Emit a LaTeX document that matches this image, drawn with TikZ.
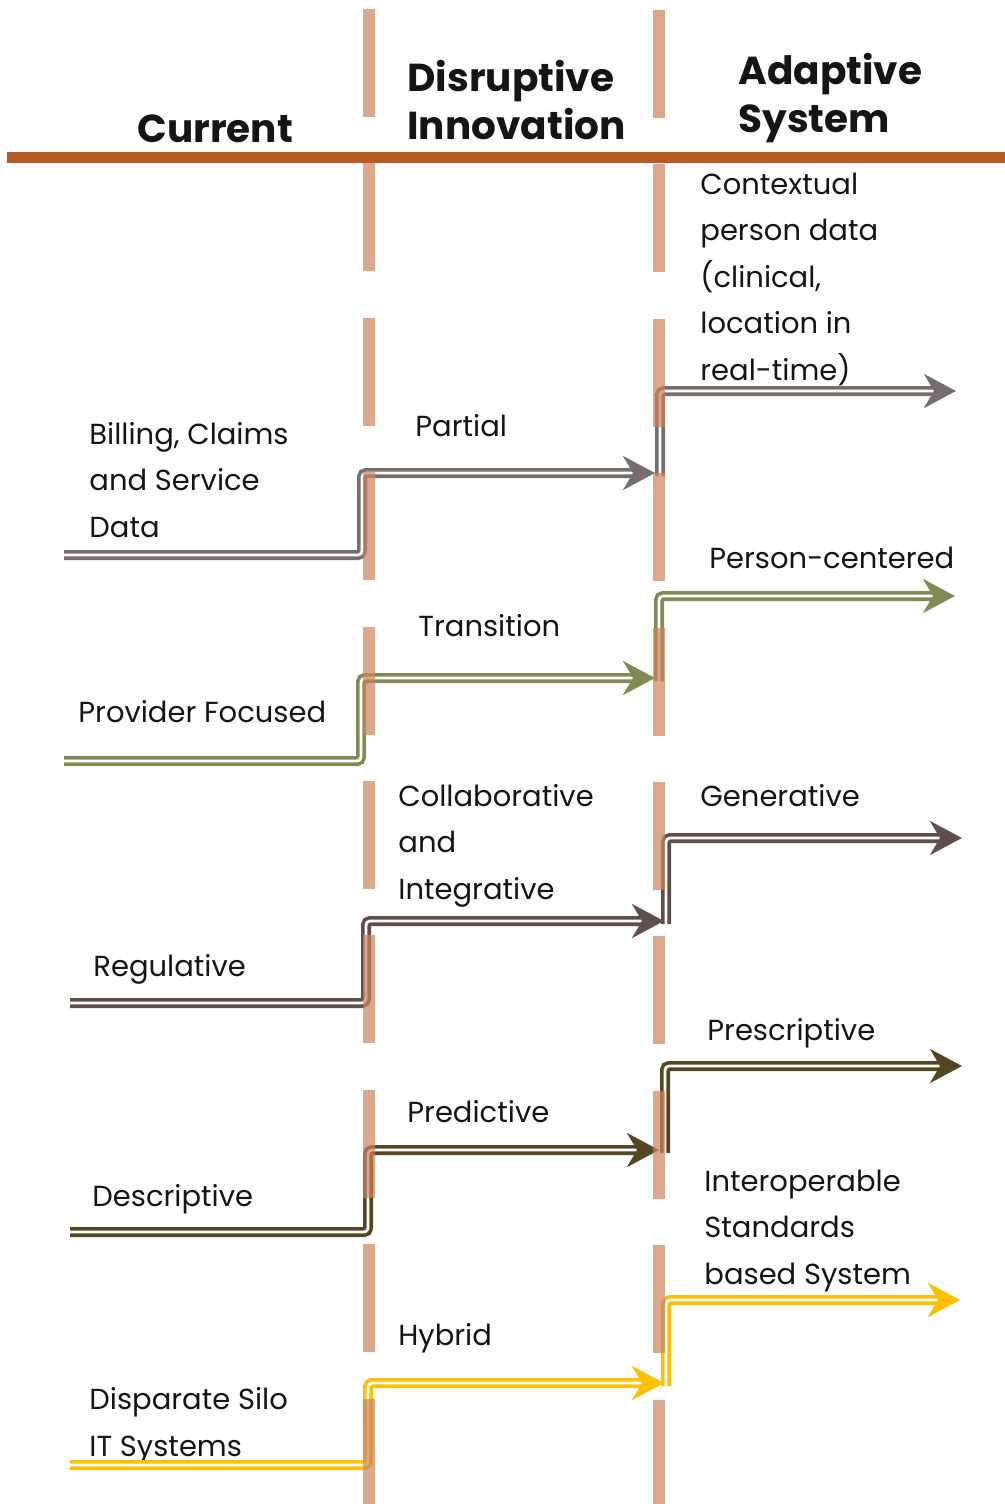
\documentclass[tikz,border=0pt]{standalone}
\usepackage{fontspec}
\setmainfont{Poppins}
\usetikzlibrary{arrows.meta}
\definecolor{cbar}{HTML}{B85A24}
\definecolor{cdash}{HTML}{CD835B}
\definecolor{cgray}{HTML}{766E6E}
\definecolor{cgreen}{HTML}{7F8A56}
\definecolor{cbrown}{HTML}{5F4E4B}
\definecolor{cdark}{HTML}{554623}
\definecolor{cgold}{HTML}{FFC000}
\definecolor{ctext}{HTML}{151515}
\tikzset{
  arr/.style={draw=#1, line width=1.8pt, double=white, double distance=1.4pt,
    rounded corners=2pt, -{Stealth[length=16pt,width=17pt,inset=5pt]}},
  colline/.style={draw=cdash, opacity=0.7, line width=6pt, dash pattern=on 54pt off 23.2pt},
  hdr/.style={anchor=base west, inner sep=0pt, align=left, text=ctext,
    font=\fontsize{19.5}{24}\selectfont\bfseries},
  lbl/.style={anchor=base west, inner sep=0pt, align=left, text=ctext,
    font=\fontsize{14.5}{23.25}\selectfont},
}
\begin{document}
\begin{tikzpicture}[x=0.5pt,y=-0.5pt]
\useasboundingbox (0,0) rectangle (1005,1504);
% header texts (anchor = baseline of last line)
\node[hdr] (cur) at (137,142) {Current};
\node[hdr] (dis) at (407,140) {Disruptive\\Innovation};
\node[hdr] (ada) at (738,133) {Adaptive\\System};
% labels (anchor = baseline of last line)
\node[lbl] (ctx) at (700,380) {Contextual\\person data\\(clinical,\\location in\\real-time)};
\node[lbl] (bil) at (89,537) {Billing, Claims\\and Service\\Data};
\node[lbl] (par) at (415,436) {Partial};
\node[lbl] (per) at (709,568) {Person-centered};
\node[lbl] (tra) at (418,636) {Transition};
\node[lbl] (pro) at (78,722) {Provider Focused};
\node[lbl] (col) at (398,899) {Collaborative\\and\\Integrative};
\node[lbl] (gen) at (700,806) {Generative};
\node[lbl] (reg) at (93,976) {Regulative};
\node[lbl] (pre) at (707,1040) {Prescriptive};
\node[lbl] (prd) at (407,1122) {Predictive};
\node[lbl] (des) at (92,1206) {Descriptive};
\node[lbl] (int) at (704,1284) {Interoperable\\Standards\\based System};
\node[lbl] (hyb) at (398,1345) {Hybrid};
\node[lbl] (dis2) at (89,1456) {Disparate Silo\\IT Systems};
% arrow coordinates
\coordinate (g0) at (64,555);  \coordinate (g1) at (362,473); \coordinate (g2) at (655,473);
\coordinate (g3) at (660,476); \coordinate (g4) at (956,391);
\coordinate (v0) at (64,761);  \coordinate (v1) at (361,678); \coordinate (v2) at (655,678);
\coordinate (v3) at (659,681); \coordinate (v4) at (955,596);
\coordinate (b0) at (70,1003); \coordinate (b1) at (366,921); \coordinate (b2) at (664,921);
\coordinate (b3) at (666,924); \coordinate (b4) at (962,838);
\coordinate (d0) at (70,1232); \coordinate (d1) at (368,1150); \coordinate (d2) at (659,1150);
\coordinate (d3) at (665,1153); \coordinate (d4) at (962,1066);
\coordinate (y0) at (70,1465); \coordinate (y1) at (368,1383); \coordinate (y2) at (664,1383);
\coordinate (y3) at (666,1386); \coordinate (y4) at (960,1300);
% arrows
\draw[arr=cgray] (g0) -| (g1) -- (g2);
\draw[arr=cgray] (g3) |- (g4);
\draw[arr=cgreen] (v0) -| (v1) -- (v2);
\draw[arr=cgreen] (v3) |- (v4);
\draw[arr=cbrown] (b0) -| (b1) -- (b2);
\draw[arr=cbrown] (b3) |- (b4);
\draw[arr=cdark] (d0) -| (d1) -- (d2);
\draw[arr=cdark] (d3) |- (d4);
\draw[arr=cgold] (y0) -| (y1) -- (y2);
\draw[arr=cgold] (y3) |- (y4);
% dashed column lines
\coordinate (lt) at (369,9);   \coordinate (lb) at (369,1504);
\coordinate (rt) at (659,10);  \coordinate (rb) at (659,1504);
\draw[colline] (lt) -- (lb);
\draw[colline] (rt) -- (rb);
% header bar
\coordinate (hl) at (7,157.5); \coordinate (hr) at (1005,157.5);
\draw[draw=cbar, line width=5.5pt] (hl) -- (hr);
\end{tikzpicture}
\end{document}
